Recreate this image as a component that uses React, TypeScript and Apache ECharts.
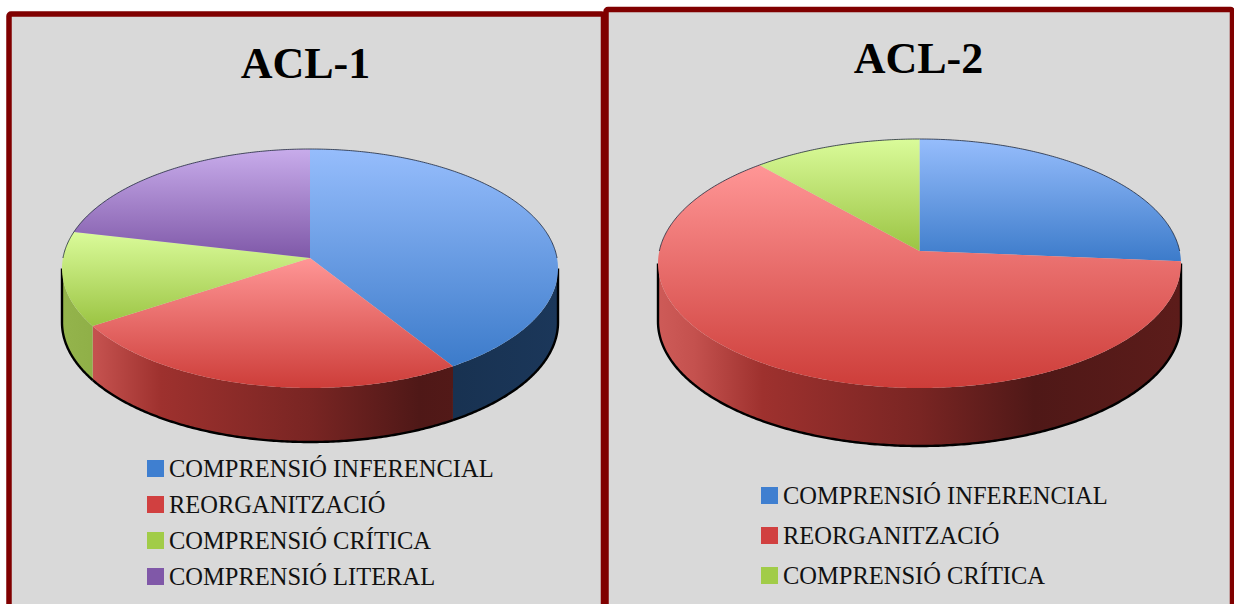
import React, { useEffect, useRef } from "react";
import * as echarts from "echarts";

const catInferencial = "COMPRENSIÓ INFERENCIAL";
const catReorganitzacio = "REORGANITZACIÓ";
const catCritica = "COMPRENSIÓ CRÍTICA";
const catLiteral = "COMPRENSIÓ LITERAL";

const acl1Categories = [catInferencial, catReorganitzacio, catCritica, catLiteral];
const acl1Values = [41, 24.8, 12.8, 21.4];
const acl2Categories = [catInferencial, catReorganitzacio, catCritica];
const acl2Values = [26.3, 62.2, 11.5];

const palette: Record<string, { base: number[]; light: string; dark: string; lift: number }> = {
  [catInferencial]: { base: [61, 125, 204], light: "#96bdfc", dark: "#3c7bca", lift: 30 },
  [catReorganitzacio]: { base: [208, 64, 60], light: "#ff9696", dark: "#cd3d39", lift: 40 },
  [catCritica]: { base: [160, 200, 70], light: "#dafb9a", dark: "#9bc443", lift: 20 },
  [catLiteral]: { base: [128, 88, 168], light: "#c8aceb", dark: "#7f58a8", lift: 30 },
};
const legendColors: Record<string, string> = {
  [catInferencial]: "#3f7fd0",
  [catReorganitzacio]: "#d14040",
  [catCritica]: "#a1cc48",
  [catLiteral]: "#8058a8",
};

type Pie = { cx: number; apexY: number; halfW: number; far: number; near: number; depth: number };

const rgb = (c: number[]) => `rgb(${c.map((v) => Math.round(Math.min(255, v))).join(",")})`;
const shade = (c: number[], k: number, lift = 0) => rgb(c.map((v) => v * k + lift));

function pieSeries(categories: string[], values: number[], g: Pie) {
  const total = values.reduce((a, b) => a + b, 0);
  const p = (g.near - g.far) / (g.near + g.far);
  const b = g.near * (1 - p);
  const a = g.halfW * Math.sqrt(1 - p * p);
  const rim = (phi: number, dy = 0) => {
    const x = Math.sin(phi);
    const y = -Math.cos(phi);
    const w = 1 - p * y;
    return [g.cx + (a * x) / w, g.apexY + (b * y) / w + dy];
  };
  const arc = (s: number, e: number, dy = 0) => {
    const n = Math.max(2, Math.ceil((e - s) / 0.01));
    const pts: number[][] = [];
    for (let i = 0; i <= n; i++) pts.push(rim(s + ((e - s) * i) / n, dy));
    return pts;
  };
  const phi0 = Math.acos(-p);
  const phi1 = 2 * Math.PI - phi0;
  let cum = 0;
  return categories.map((name, idx) => {
    const startShare = cum / total;
    cum += values[idx];
    const col = palette[name];
    return {
      type: "custom",
      name,
      coordinateSystem: "none",
      silent: true,
      itemStyle: { color: legendColors[name] },
      data: [[values[idx]]],
      renderItem: (_params: any, api: any) => {
        const s = startShare * 2 * Math.PI;
        const e = s + (api.value(0) / total) * 2 * Math.PI;
        const children: any[] = [];
        const cs = Math.max(s, phi0);
        const ce = Math.min(e, phi1);
        if (ce > cs) {
          const top = arc(cs, ce);
          const bottom = arc(cs, ce, g.depth);
          const left = g.cx - g.halfW;
          const c = col.base;
          children.push({
            type: "polygon",
            shape: { points: top.concat(bottom.slice().reverse()) },
            style: {
              fill: {
                type: "linear",
                global: true,
                x: left,
                y: 0,
                x2: left + 2 * g.halfW,
                y2: 0,
                colorStops: [
                  { offset: 0, color: shade(c, 0.8, col.lift) },
                  { offset: 0.07, color: shade(c, 0.8, col.lift * 0.75) },
                  { offset: 0.2, color: shade(c, 0.76) },
                  { offset: 0.5, color: shade(c, 0.58) },
                  { offset: 0.72, color: shade(c, 0.38) },
                  { offset: 1, color: shade(c, 0.44) },
                ],
              },
            },
          });
          const edge = bottom.slice();
          if (s <= phi0) edge.unshift(top[0]);
          if (e >= phi1) edge.push(top[top.length - 1]);
          children.push({
            type: "polyline",
            shape: { points: edge },
            style: { fill: "none", stroke: "#000", lineWidth: 2.4 },
          });
        }
        const topFace = [[g.cx, g.apexY]].concat(arc(s, e));
        children.push({
          type: "polygon",
          shape: { points: topFace },
          style: {
            fill: {
              type: "linear",
              x: 0,
              y: 0,
              x2: 0,
              y2: 1,
              colorStops: [
                { offset: 0, color: col.light },
                { offset: 1, color: col.dark },
              ],
            },
          },
        });
        const fs = s;
        const fe = Math.min(e, Math.PI / 2);
        const bs = Math.max(s, (3 * Math.PI) / 2);
        const outline = (u: number, v: number) => ({
          type: "polyline",
          shape: { points: arc(u, v) },
          style: { fill: "none", stroke: "rgba(20,30,50,0.75)", lineWidth: 1 },
        });
        if (fe > fs) children.push(outline(fs, fe));
        if (e > bs) children.push(outline(bs, e));
        return { type: "group", children };
      },
    };
  });
}

const legendText = { fontFamily: "Liberation Serif", fontSize: 24.5, color: "#111" };
const titleText = { fontFamily: "Liberation Serif", fontWeight: "bold", fontSize: 44, color: "#000" };

export default function App() {
  const ref = useRef<HTMLDivElement>(null);
  useEffect(() => {
    const chart = echarts.init(ref.current!, undefined, { renderer: "svg" });
    chart.setOption({
      animation: false,
      backgroundColor: "#fff",
      title: [
        { text: "ACL-1", left: 300.5, top: 36, textAlign: "center", textStyle: titleText },
        { text: "ACL-2", left: 913.5, top: 31, textAlign: "center", textStyle: titleText },
      ],
      legend: [
        {
          data: acl1Categories,
          orient: "vertical",
          left: 147,
          top: 456,
          height: 148,
          itemWidth: 17,
          itemHeight: 17,
          itemGap: 11,
          icon: "rect",
          selectedMode: false,
          padding: 0,
          textStyle: legendText,
        },
        {
          data: acl2Categories,
          orient: "vertical",
          left: 761,
          top: 483,
          height: 121,
          itemWidth: 17,
          itemHeight: 17,
          itemGap: 15,
          icon: "rect",
          selectedMode: false,
          padding: 0,
          textStyle: legendText,
        },
      ],
      graphic: [
        {
          type: "rect",
          z: -10,
          shape: { x: 9, y: 14, width: 594.5, height: 620, r: 2 },
          style: { fill: "#d9d9d9", stroke: "#800000", lineWidth: 5.5 },
        },
        {
          type: "rect",
          z: -9,
          shape: { x: 606, y: 9.5, width: 626.5, height: 620, r: 2 },
          style: { fill: "#d9d9d9", stroke: "#800000", lineWidth: 5.5 },
        },
      ],
      series: [
        ...pieSeries(acl1Categories, acl1Values, { cx: 310, apexY: 258, halfW: 248, far: 109, near: 130, depth: 54 }),
        ...pieSeries(acl2Categories, acl2Values, { cx: 919.5, apexY: 251, halfW: 261.5, far: 112, near: 137, depth: 58 }),
      ],
    });
    return () => chart.dispose();
  }, []);
  return <div ref={ref} style={{ position: "fixed", left: 0, top: 0, width: 1234, height: 604 }} />;
}
